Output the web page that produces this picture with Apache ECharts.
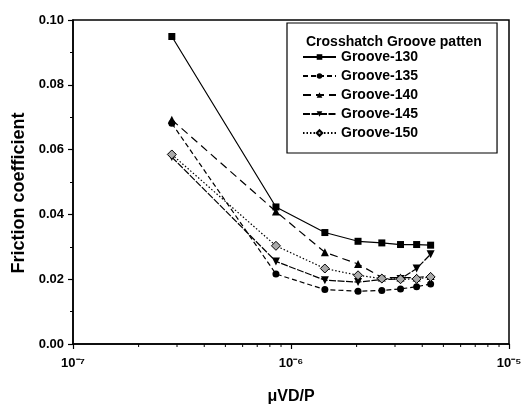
<!DOCTYPE html>
<html>
<head>
<meta charset="utf-8">
<script src="https://cdn.jsdelivr.net/npm/echarts@6/dist/echarts.min.js"></script>
<style>
  html, body { margin: 0; padding: 0; background: #fff; }
  #chart { width: 527px; height: 404px; }
</style>
</head>
<body>
<div id="chart"></div>
<script>
// x positions (uVD/P)
const xVals = [2.84e-7, 8.53e-7, 1.43e-6, 2.03e-6, 2.61e-6, 3.18e-6, 3.77e-6, 4.37e-6]
// friction coefficient per groove
const g130 = [0.0949, 0.0423, 0.0344, 0.0317, 0.0312, 0.0307, 0.0307, 0.0305]
const g135 = [0.0681, 0.0216, 0.0168, 0.0163, 0.0165, 0.0170, 0.0177, 0.0185]
const g140 = [0.0692, 0.0409, 0.0283, 0.0247, 0.0205, 0.0205, 0.0205, 0.0210]
const g145 = [0.0577, 0.0255, 0.0197, 0.0191, 0.0199, 0.0201, 0.0233, 0.0277]
const g150 = [0.0585, 0.0303, 0.0233, 0.0212, 0.0202, 0.0200, 0.0201, 0.0207]
const names = ['Groove-130', 'Groove-135', 'Groove-140', 'Groove-145', 'Groove-150']
// minor ticks of the log axis
const minorX = [2e-7, 3e-7, 4e-7, 5e-7, 6e-7, 7e-7, 8e-7, 9e-7, 2e-6, 3e-6, 4e-6, 5e-6, 6e-6, 7e-6, 8e-6, 9e-6]

const font = '"Liberation Sans", Arial, sans-serif'
const sup = { '-': '⁻', '5': '⁵', '6': '⁶', '7': '⁷' }

function pairs(ys) {
    return xVals.map((x, i) => [x, ys[i]])
}

// one line series
function line(name, ys, symbol, size, dash, fill) {
    return {
        name: name,
        type: 'line',
        data: pairs(ys),
        symbol: symbol,
        symbolSize: size,
        lineStyle: { color: '#000', width: 1.2, type: dash },
        itemStyle: { color: fill || '#000', borderColor: '#000', borderWidth: fill ? 1 : 0 },
        z: 3,
    }
}

const chart = echarts.init(document.getElementById('chart'))

let option = {
    animation: false,
    backgroundColor: '#fff',
    textStyle: { fontFamily: font },
    grid: {
        left: 73, right: 18, top: 20, bottom: 60,
        outerBoundsMode: 'none',
        containLabel: false,
        show: true, borderColor: '#000', borderWidth: 1.5,
    },
    title: {
        text: 'Crosshatch Groove patten',
        left: 301, top: 30,
        textStyle: { fontFamily: font, fontSize: 14, fontWeight: 'bold', color: '#000' },
    },
    legend: {
        data: names,
        orient: 'vertical',
        left: 287, top: 23,
        padding: [27, 79, 13, 15],
        itemWidth: 33, itemHeight: 7, itemGap: 5,
        backgroundColor: '#fff',
        borderColor: '#000', borderWidth: 1.2,
        textStyle: { fontFamily: font, fontSize: 14, fontWeight: 'bold', color: '#000', lineHeight: 14 },
    },
    xAxis: {
        type: 'log',
        logBase: 10,
        min: 1e-7, max: 1e-5,
        name: 'μVD/P',
        nameLocation: 'middle',
        nameGap: 45,
        nameTextStyle: { fontFamily: font, fontSize: 16, fontWeight: 'bold', color: '#000' },
        axisLine: { onZero: false, lineStyle: { color: '#000', width: 1.5 } },
        axisTick: { inside: false, length: 5, lineStyle: { color: '#000', width: 1.2 } },
        splitLine: { show: false },
        axisLabel: {
            margin: 13,
            fontFamily: font, fontSize: 13, fontWeight: 'bold', color: '#000',
            formatter: v => '10' + String(Math.round(Math.log10(v))).split('').map(c => sup[c]).join(''),
        },
    },
    yAxis: {
        type: 'value',
        min: 0, max: 0.1, interval: 0.02,
        name: 'Friction coefficient',
        nameLocation: 'middle',
        nameGap: 38,
        nameTextStyle: {
            fontFamily: font, fontSize: 18, fontWeight: 'bold', color: '#000',
            padding: [0, 22, 0, 0],
        },
        axisLine: { show: true, lineStyle: { color: '#000', width: 1.5 } },
        axisTick: { show: true, inside: false, length: 5, lineStyle: { color: '#000', width: 1.2 } },
        minorTick: { show: true, splitNumber: 2, length: 3, lineStyle: { color: '#000', width: 1 } },
        splitLine: { show: false },
        axisLabel: {
            margin: 9,
            fontFamily: font, fontSize: 13, fontWeight: 'bold', color: '#000',
            formatter: v => v.toFixed(2),
        },
    },
    series: [
        line('Groove-130', g130, 'rect', 7, 'solid'),
        line('Groove-135', g135, 'circle', 7, [5, 3]),
        line('Groove-140', g140, 'triangle', 8, [8, 5]),
        line('Groove-145', g145, 'path://M0,0 L10,0 L5,9 Z', 8, [7, 1.5]),
        line('Groove-150', g150, 'diamond', 9, [1.5, 2], '#aaa'),
        {
            // minor ticks under the log axis
            type: 'custom',
            silent: true,
            clip: false,
            data: minorX.map(x => [x, 0]),
            renderItem: function (params, api) {
                const p = api.coord([api.value(0), 0])
                return {
                    type: 'line',
                    shape: { x1: p[0], y1: p[1], x2: p[0], y2: p[1] + 3 },
                    style: { stroke: '#000', lineWidth: 1 },
                }
            },
        },
    ],
}

chart.setOption(option)
</script>
</body>
</html>
